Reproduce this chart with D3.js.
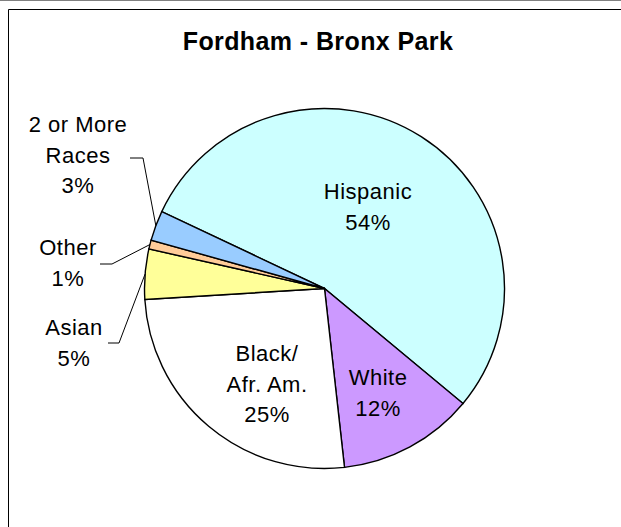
<!DOCTYPE html>
<html lang="en">
<head>
<meta charset="utf-8" />
<title>Fordham - Bronx Park</title>
<script src="https://d3js.org/d3.v7.min.js"></script>
<style>
    html, body { margin: 0; padding: 0; background: #fff; }
    svg { display: block; font-family: "Liberation Sans", Arial, sans-serif; }
    .slice { stroke: #000; stroke-width: 1.4; }
    .label { font-size: 22px; letter-spacing: 0.5px; fill: #000; }
    .leader { fill: none; stroke: #000; stroke-width: 1; }
</style>
</head>
<body>
<svg width="621" height="527"></svg>
<script>
    // data (slice order is clockwise)
    var categories = ["Hispanic", "White", "Black/Afr. Am.", "Asian", "Other", "2 or More Races"];
    var shares = [54.0, 12.2, 25.8, 4.5, 0.8, 2.7];
    var pctLabels = ["54%", "12%", "25%", "5%", "1%", "3%"];
    var colors = ["#CCFFFF", "#CC99FF", "#FFFFFF", "#FFFF99", "#FFCC99", "#99CCFF"];

    var svg = d3.select("svg"),
        cx = 324.5, cy = 288.5, radius = 180;

    // outer frame
    svg.append("line").attr("x1", 0).attr("x2", 621).attr("y1", 0.5).attr("y2", 0.5)
        .attr("stroke", "#808080");
    svg.append("path").attr("d", "M8.5,527V9.5H621")
        .attr("fill", "none").attr("stroke", "#000");

    svg.append("text")
        .attr("x", 318).attr("y", 50)
        .attr("text-anchor", "middle")
        .style("font-size", "25px").style("font-weight", "bold").style("letter-spacing", "0.4px")
        .text("Fordham - Bronx Park");

    var data = categories.map(function (c, i) {
        return { name: c, value: shares[i], pct: pctLabels[i], color: colors[i] };
    });

    var pie = d3.pie()
        .sort(null)
        .value(function (d) { return d.value; })
        .startAngle(-64.7 * Math.PI / 180)
        .endAngle((360 - 64.7) * Math.PI / 180);

    var arc = d3.arc().innerRadius(0).outerRadius(radius);

    var g = svg.append("g").attr("transform", "translate(" + cx + "," + cy + ")");
    var arcs = pie(data);

    g.selectAll(".slice")
        .data(arcs)
        .enter().append("path")
        .attr("class", "slice")
        .attr("fill", function (d) { return d.data.color; })
        .attr("d", arc);

    // label layout: text lines, centre x, first baseline, optional leader start
    var layout = {
        "Hispanic": { lines: ["Hispanic"], x: 368, y: 199 },
        "White": { lines: ["White"], x: 378, y: 385 },
        "Black/Afr. Am.": { lines: ["Black/", "Afr. Am."], x: 267, y: 361 },
        "Asian": { lines: ["Asian"], x: 74, y: 335, leader: [[108, 343], [119, 343]] },
        "Other": { lines: ["Other"], x: 68, y: 255, leader: [[100, 264], [112, 264]] },
        "2 or More Races": { lines: ["2 or More", "Races"], x: 78, y: 132, leader: [[130, 158], [143, 158]] }
    };
    var lineH = 30.7;

    arcs.forEach(function (a) {
        var L = layout[a.data.name];
        var t = svg.append("text").attr("class", "label").attr("text-anchor", "middle");
        L.lines.concat([a.data.pct]).forEach(function (s, i) {
            t.append("tspan").attr("x", L.x).attr("y", L.y + i * lineH).text(s);
        });
        if (L.leader) {
            var mid = (a.startAngle + a.endAngle) / 2;
            var end = [cx + radius * Math.sin(mid), cy - radius * Math.cos(mid)];
            svg.append("path").attr("class", "leader")
                .attr("d", d3.line()(L.leader.concat([end])));
        }
    });
</script>
</body>
</html>
